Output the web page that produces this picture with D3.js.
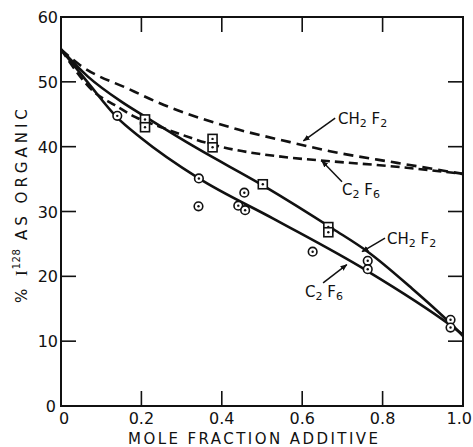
<!DOCTYPE html>
<html><head><meta charset="utf-8">
<script src="https://cdn.jsdelivr.net/npm/d3@7"></script>
<style>
html,body{margin:0;padding:0;background:#fff;}
svg{display:block;}
text{font-family:"DejaVu Sans",sans-serif;fill:#111;}
</style></head>
<body>
<script>
// ---- data ----
const xTicks = [0, 0.2, 0.4, 0.6, 0.8, 1.0];
const xTickLabels = ["0", "0.2", "0.4", "0.6", "0.8", "1.0"];
const yTicks = [0, 10, 20, 30, 40, 50, 60];
const yTickLabels = ["0", "10", "20", "30", "40", "50", "60"];

// dashed curves
const dashCH2F2_x = [0, 0.047, 0.172, 0.246, 0.42, 0.57, 0.669, 0.836, 1.0];
const dashCH2F2_y = [55, 52.6, 48.8, 46.7, 43.0, 40.7, 39.3, 37.5, 35.8];
const dashC2F6_x = [0, 0.085, 0.134, 0.184, 0.254, 0.378, 0.57, 0.661, 0.835, 1.0];
const dashC2F6_y = [55, 48.3, 46.4, 44.6, 42.9, 40.3, 38.3, 37.8, 36.9, 35.8];
// solid curves
const solidCH2F2_x = [0, 0.067, 0.151, 0.21, 0.337, 0.503, 0.677, 0.763, 0.87, 0.968, 1.0];
const solidCH2F2_y = [55, 50.8, 46.9, 44.6, 39.8, 34.0, 27.3, 23.8, 18.3, 12.8, 10.8];
const solidC2F6_x = [0, 0.068, 0.138, 0.2, 0.343, 0.528, 0.76, 0.968, 1.0];
const solidC2F6_y = [55, 49.8, 44.6, 41.3, 35.1, 28.9, 20.9, 12.5, 11.0];
// measured points
const squares_x = [0.209, 0.209, 0.377, 0.377, 0.502, 0.665, 0.665];
const squares_y = [44.2, 43.0, 41.2, 39.9, 34.2, 27.6, 26.8];
const circles_x = [0.140, 0.343, 0.342, 0.441, 0.458, 0.456, 0.626, 0.763, 0.763, 0.969, 0.969];
const circles_y = [44.75, 35.1, 30.8, 30.9, 30.2, 32.9, 23.8, 22.4, 21.1, 13.3, 12.1];

// annotations: label text parts (base, subscript) pairs
const annotLabels = [
  [["CH", "2"], [" F", "2"]],
  [["C", "2"], [" F", "6"]],
  [["CH", "2"], [" F", "2"]],
  [["C", "2"], [" F", "6"]]
];
// text anchor point and leader line (data coordinates)
const annotText_x = [0.689, 0.699, 0.811, 0.607];
const annotText_y = [43.5, 32.6, 25.0, 16.8];
const annotFrom_x = [0.682, 0.699, 0.806, 0.652];
const annotFrom_y = [44.4, 34.6, 25.9, 19.0];
const annotTo_x = [0.603, 0.649, 0.749, 0.711];
const annotTo_y = [40.9, 37.8, 23.8, 21.8];

// ---- layout ----
const W = 473, H = 447;
const m = {left: 61, top: 17, right: 10, bottom: 41};
const x = d3.scaleLinear().domain([0, 1]).range([m.left, W - m.right]);
const y = d3.scaleLinear().domain([0, 60]).range([H - m.bottom, m.top]);

const svg = d3.select("body").append("svg").attr("width", W).attr("height", H);

const zip = (a, b) => a.map((v, i) => [v, b[i]]);
const line = d3.line().x(d => x(d[0])).y(d => y(d[1])).curve(d3.curveMonotoneX);

// frame
svg.append("rect").attr("x", x(0)).attr("y", y(60)).attr("width", x(1) - x(0)).attr("height", y(0) - y(60))
  .attr("fill", "none").attr("stroke", "#111").attr("stroke-width", 2);

const tl = 15;
// inward ticks
const g = svg.append("g").attr("stroke", "#111").attr("stroke-width", 1.6);
xTicks.filter(t => t > 0 && t < 1).forEach(t => {
  g.append("line").attr("x1", x(t)).attr("x2", x(t)).attr("y1", y(0)).attr("y2", y(0) - tl);
  g.append("line").attr("x1", x(t)).attr("x2", x(t)).attr("y1", y(60)).attr("y2", y(60) + tl);
});
yTicks.filter(t => t > 0 && t < 60).forEach(t => {
  g.append("line").attr("x1", x(0)).attr("x2", x(0) + tl).attr("y1", y(t)).attr("y2", y(t));
  g.append("line").attr("x1", x(1)).attr("x2", x(1) - tl).attr("y1", y(t)).attr("y2", y(t));
});

// tick labels
xTicks.forEach((t, i) => {
  const last = i === xTicks.length - 1;
  svg.append("text").attr("x", last ? W - 1 : x(t) + (t === 0 ? 3 : 0)).attr("y", y(0) + 18)
    .attr("text-anchor", last ? "end" : "middle").attr("font-size", 16).text(xTickLabels[i]);
});
yTicks.forEach((t, i) => {
  svg.append("text").attr("x", x(0) - 3 - (t === 0 ? 2 : 0)).attr("y", y(t) + 6)
    .attr("text-anchor", "end").attr("font-size", 16).text(yTickLabels[i]);
});

// axis titles
svg.append("text").attr("x", 128).attr("y", 444).attr("font-size", 15)
  .attr("textLength", 250).attr("lengthAdjust", "spacing").text("MOLE FRACTION ADDITIVE");

const yt = svg.append("text").attr("transform", `translate(27,${303}) rotate(-90)`).attr("font-size", 15);
yt.append("tspan").attr("letter-spacing", 4).text("% ");
yt.append("tspan").attr("font-family", "Liberation Serif").attr("font-size", 17).attr("letter-spacing", 1).text("I");
yt.append("tspan").attr("font-size", 10).attr("dy", -7).attr("letter-spacing", 0.5).text("128");
yt.append("tspan").attr("dy", 7).attr("letter-spacing", 4).text(" AS ORGANIC");

// curves
const curves = svg.append("g").attr("fill", "none").attr("stroke", "#111").attr("stroke-width", 2.6);
curves.append("path").attr("d", line(zip(dashCH2F2_x, dashCH2F2_y))).attr("stroke-dasharray", "10,6");
curves.append("path").attr("d", line(zip(dashC2F6_x, dashC2F6_y))).attr("stroke-dasharray", "9,5");
curves.append("path").attr("d", line(zip(solidCH2F2_x, solidCH2F2_y)));
curves.append("path").attr("d", line(zip(solidC2F6_x, solidC2F6_y)));

// markers
const mk = svg.append("g");
zip(squares_x, squares_y).forEach(([a, b]) => {
  mk.append("rect").attr("x", x(a) - 4.5).attr("y", y(b) - 4.5).attr("width", 9).attr("height", 9)
    .attr("fill", "#fff").attr("stroke", "#111").attr("stroke-width", 1.6);
  mk.append("circle").attr("cx", x(a)).attr("cy", y(b)).attr("r", 1.2).attr("fill", "#111");
});
zip(circles_x, circles_y).forEach(([a, b]) => {
  mk.append("circle").attr("cx", x(a)).attr("cy", y(b)).attr("r", 4.3)
    .attr("fill", "#fff").attr("stroke", "#111").attr("stroke-width", 1.6);
  mk.append("circle").attr("cx", x(a)).attr("cy", y(b)).attr("r", 1.2).attr("fill", "#111");
});

// annotations
const defs = svg.append("defs");
defs.append("marker").attr("id", "ah").attr("viewBox", "0 0 10 10").attr("refX", 9).attr("refY", 5)
  .attr("markerWidth", 7).attr("markerHeight", 7).attr("orient", "auto").attr("markerUnits", "userSpaceOnUse")
  .append("path").attr("d", "M0,1 L10,5 L0,9 Z").attr("fill", "#111");
annotLabels.forEach((parts, i) => {
  svg.append("line").attr("x1", x(annotFrom_x[i])).attr("y1", y(annotFrom_y[i]))
    .attr("x2", x(annotTo_x[i])).attr("y2", y(annotTo_y[i]))
    .attr("stroke", "#111").attr("stroke-width", 1.5).attr("marker-end", "url(#ah)");
  const t = svg.append("text").attr("x", x(annotText_x[i])).attr("y", y(annotText_y[i]))
    .attr("font-size", 15).attr("xml:space", "preserve").style("white-space", "pre");
  parts.forEach(([base, sub], j) => {
    t.append("tspan").attr("dy", j === 0 ? 0 : -3).text(base);
    t.append("tspan").attr("font-size", 11).attr("dy", 3).text(sub);
  });
});
</script>
</body></html>
